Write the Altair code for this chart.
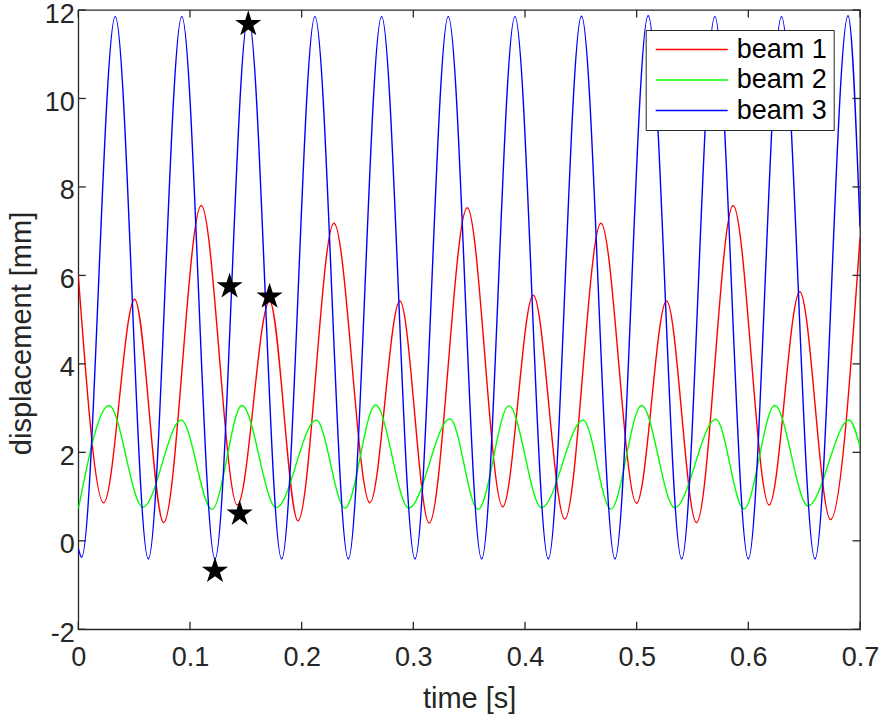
import altair as alt
import pandas as pd

# ---- data (extrema + end points) ----
beam1_t = [0.0, 0.0227, 0.0505, 0.0764, 0.1101, 0.1424, 0.1713, 0.1967, 0.2289, 0.2611,
           0.2880, 0.3142, 0.3483, 0.3800, 0.4074, 0.4357, 0.4680, 0.4999, 0.5268, 0.5536,
           0.5864, 0.6186, 0.6461, 0.6736, 0.7]
beam1_v = [6.0, 0.86, 5.46, 0.41, 7.58, 0.81, 5.42, 0.45, 7.18, 0.86,
           5.42, 0.40, 7.53, 0.77, 5.55, 0.49, 7.18, 0.85, 5.42, 0.41,
           7.58, 0.81, 5.63, 0.48, 6.85]

beam2_t = [0.0, 0.0275, 0.0579, 0.0922, 0.1197, 0.1466, 0.1773, 0.2131, 0.2388, 0.2662,
           0.2960, 0.3328, 0.3580, 0.3856, 0.4149, 0.4521, 0.4769, 0.5044, 0.5342, 0.5709,
           0.5960, 0.6237, 0.6535, 0.6903, 0.7]
beam2_v = [0.72, 3.06, 0.76, 2.73, 0.71, 3.06, 0.75, 2.73, 0.74, 3.07,
           0.74, 2.76, 0.71, 3.05, 0.75, 2.73, 0.72, 3.06, 0.75, 2.75,
           0.72, 3.06, 0.79, 2.73, 2.13]

beam3_t = [0.0, 0.0030, 0.0331, 0.0627, 0.0927, 0.1224, 0.1522, 0.1821, 0.2119, 0.2418,
           0.2716, 0.3015, 0.3313, 0.3612, 0.3910, 0.4209, 0.4506, 0.4806, 0.5103, 0.5403,
           0.5700, 0.6000, 0.6297, 0.6597, 0.6893, 0.7]
beam3_v = [-0.17, -0.37, 11.85, -0.41, 11.85, -0.41, 11.85, -0.41, 11.85, -0.41,
           11.85, -0.41, 11.85, -0.41, 11.85, -0.41, 11.86, -0.41, 11.87, -0.41,
           11.85, -0.41, 11.85, -0.41, 11.87, 7.1]

star_t = [0.1522, 0.1355, 0.1713, 0.1445, 0.1224]
star_v = [11.68, 5.75, 5.52, 0.61, -0.68]

series_names = ["beam 1", "beam 2", "beam 3"]
series_colors = ["#ff0000", "#00ff00", "#0000ff"]

x_ticks = [0, 0.1, 0.2, 0.3, 0.4, 0.5, 0.6, 0.7]
y_ticks = [-2, 0, 2, 4, 6, 8, 10, 12]

# ---- tables ----
rows = []
for name, ts, vs in zip(series_names, [beam1_t, beam2_t, beam3_t], [beam1_v, beam2_v, beam3_v]):
    for t, v in zip(ts, vs):
        rows.append({"series": name, "t": t, "v": v})
lines_df = pd.DataFrame(rows)
stars_df = pd.DataFrame({"t": star_t, "v": star_v})
xt_df = pd.DataFrame({"t": x_ticks})
yt_df = pd.DataFrame({"v": y_ticks})

W, H = 781.7, 619.3
TICK = 7.5
AX = "#262626"
FONT = "Liberation Sans"

x_scale = alt.Scale(domain=[0, 0.7], nice=False, zero=False)
y_scale = alt.Scale(domain=[-2, 12], nice=False, zero=False)

x_axis = alt.Axis(values=x_ticks, format="~g", title="time [s]", labelPadding=15,
                  labelFlush=False, titleBaseline="alphabetic", titleY=78)
y_axis = alt.Axis(values=y_ticks, title="displacement [mm]", labelPadding=4, labelOffset=4,
                  labelFlush=False,
                  labelExpr="replace(datum.label, '\u2212', '-')",
                  titleBaseline="alphabetic", titleX=-47.8, titleY=323, titleAngle=270)

X = alt.X("t:Q", scale=x_scale, axis=x_axis)
Y = alt.Y("v:Q", scale=y_scale, axis=y_axis)

STAR = ("M0,-1L0.2245,-0.309L0.951,-0.309L0.363,0.118L0.588,0.809L0,0.382"
        "L-0.588,0.809L-0.363,0.118L-0.951,-0.309L-0.2245,-0.309Z")

lines = alt.Chart(lines_df).mark_line(interpolate="monotone", strokeWidth=1.4, clip=True).encode(
    x=X, y=Y,
    color=alt.Color("series:N",
                    scale=alt.Scale(domain=series_names, range=series_colors),
                    legend=alt.Legend(orient="none", legendX=567.4, legendY=20, title=None,
                                      symbolType="stroke", symbolSize=5184, symbolStrokeWidth=1.4,
                                      labelFont=FONT, labelFontSize=27, labelColor="black",
                                      strokeColor=AX, fillColor="white", padding=6,
                                      rowPadding=2.5, clipHeight=27, symbolOffset=3, labelOffset=8)),
)

stars = alt.Chart(stars_df).mark_point(shape=STAR, size=760, filled=True, color="black", opacity=1).encode(
    x=X, y=Y,
)

yt_left = alt.Chart(yt_df).mark_rule(color=AX, strokeWidth=1.3).encode(
    y=Y, x=alt.value(0), x2=alt.value(TICK))
yt_right = alt.Chart(yt_df).mark_rule(color=AX, strokeWidth=1.3).encode(
    y=Y, x=alt.value(W - TICK), x2=alt.value(W))
xt_bottom = alt.Chart(xt_df).mark_rule(color=AX, strokeWidth=1.3).encode(
    x=X, y=alt.value(H - TICK), y2=alt.value(H))
xt_top = alt.Chart(xt_df).mark_rule(color=AX, strokeWidth=1.3).encode(
    x=X, y=alt.value(0), y2=alt.value(TICK))

chart = alt.layer(lines, yt_left, yt_right, xt_bottom, xt_top, stars).properties(
    width=W, height=H,
    padding={"left": 78.3, "top": 10, "right": 29, "bottom": 86.7},
    autosize=alt.AutoSizeParams(type="none"),
    background="white",
).configure_view(
    stroke=AX, strokeWidth=1.3
).configure_axis(
    ticks=False, domain=False, grid=False,
    labelFont=FONT, labelFontSize=27, labelColor=AX,
    titleFont=FONT, titleFontSize=29, titleColor=AX, titleFontWeight="normal",
)

chart.save("out.html", embed_options={"renderer": "svg", "actions": False})
